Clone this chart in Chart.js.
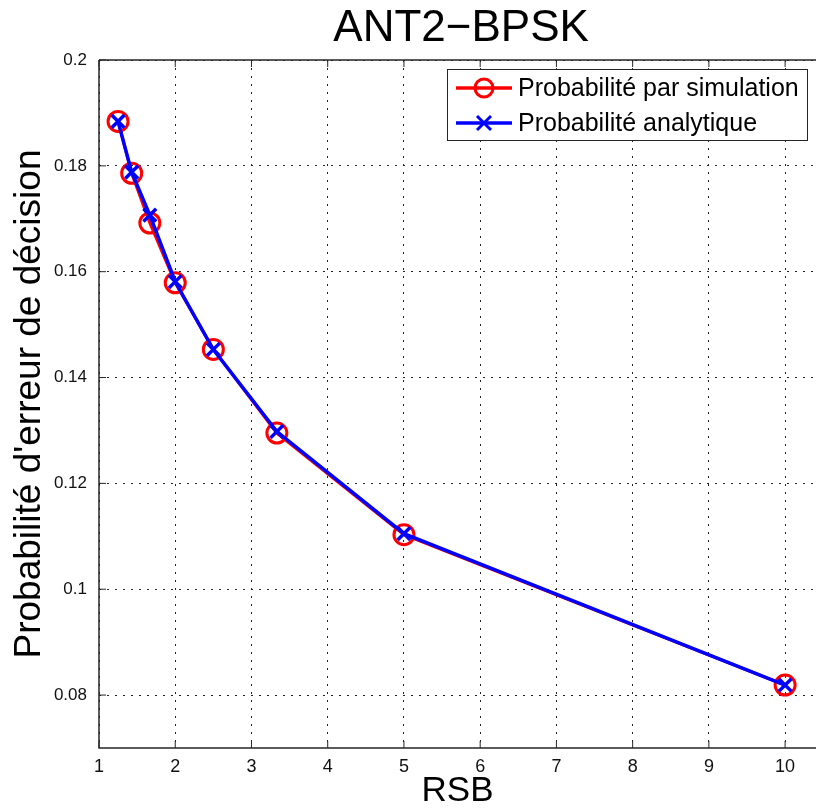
<!DOCTYPE html>
<html lang="fr">
<head>
<meta charset="UTF-8">
<title>ANT2-BPSK</title>
<script src="https://cdn.jsdelivr.net/npm/chart.js"></script>
<style>
  html, body { margin: 0; padding: 0; background: #fff; }
  #wrap { width: 816px; height: 809px; }
</style>
</head>
<body>
<div id="wrap"><canvas id="chart"></canvas></div>
<script>
    // valeurs
    const rsb = [1.25, 1.4286, 1.6667, 2, 2.5, 3.3333, 5, 10];
    const probSimulation = [0.1884, 0.1786, 0.1692, 0.1579, 0.1453, 0.1295, 0.1103, 0.0819];
    const probAnalytique = [0.1884, 0.1788, 0.1707, 0.1581, 0.1453, 0.1298, 0.1105, 0.0819];
    const xTicks = [1, 2, 3, 4, 5, 6, 7, 8, 9, 10];
    const yTicks = [0.08, 0.1, 0.12, 0.14, 0.16, 0.18, 0.2];
    const legendLabels = ['Probabilité par simulation', 'Probabilité analytique'];

    const FONT = "'Liberation Sans Narrow', 'Liberation Sans', Arial, sans-serif";
    const X_END = 10.405; // l'image est coupee a droite, l'axe continue
    const X_FULL = 10.5;  // fin reelle de l'axe (pour centrer le titre)

    // cadre facon matlab, titre et legende dessines a la main
    const matlabFrame = {
        id: 'matlabFrame',
        afterDatasetsDraw(chart) {
            const ctx = chart.ctx;
            const a = chart.chartArea;
            const xs = chart.scales.x, ys = chart.scales.y;
            ctx.save();
            ctx.strokeStyle = '#262626';
            ctx.lineWidth = 1.5;
            ctx.beginPath();
            ctx.moveTo(a.left, a.top);
            ctx.lineTo(a.left, a.bottom);
            ctx.lineTo(chart.width, a.bottom);
            ctx.moveTo(a.left, a.top);
            ctx.lineTo(chart.width, a.top);
            ctx.stroke();
            // petites graduations vers l'interieur
            ctx.lineWidth = 1;
            ctx.beginPath();
            xTicks.forEach(v => {
                const px = xs.getPixelForValue(v);
                ctx.moveTo(px, a.bottom); ctx.lineTo(px, a.bottom - 7);
                ctx.moveTo(px, a.top); ctx.lineTo(px, a.top + 7);
            });
            yTicks.forEach(v => {
                const py = ys.getPixelForValue(v);
                ctx.moveTo(a.left, py); ctx.lineTo(a.left + 7, py);
            });
            ctx.stroke();
            ctx.restore();
        },
        afterDraw(chart) {
            const ctx = chart.ctx;
            const a = chart.chartArea;
            const xs = chart.scales.x;
            ctx.save();
            // titre centre sur l'axe complet
            const cx = (a.left + xs.getPixelForValue(X_FULL)) / 2;
            ctx.fillStyle = '#000';
            ctx.font = '44px ' + FONT;
            ctx.textAlign = 'center';
            ctx.textBaseline = 'middle';
            ctx.fillText('ANT2\u2212BPSK', cx, 29);

            // legende
            const bx = 447, by = 69, bw = 360, bh = 71;
            ctx.fillStyle = '#fff';
            ctx.fillRect(bx, by, bw, bh);
            ctx.strokeStyle = '#262626';
            ctx.lineWidth = 1;
            ctx.strokeRect(bx + 0.5, by + 0.5, bw, bh);
            const rows = [
                { y: by + 19, color: '#ff0000', marker: 'circle' },
                { y: by + 54, color: '#0000ff', marker: 'cross' }
            ];
            ctx.font = '25px ' + FONT;
            ctx.textAlign = 'left';
            rows.forEach((r, i) => {
                ctx.strokeStyle = r.color;
                ctx.lineWidth = 3.5;
                ctx.beginPath();
                ctx.moveTo(456, r.y); ctx.lineTo(512, r.y);
                ctx.stroke();
                ctx.lineWidth = 3;
                ctx.beginPath();
                if (r.marker === 'circle') {
                    ctx.arc(484, r.y, 9, 0, Math.PI * 2);
                } else {
                    ctx.moveTo(477, r.y - 7); ctx.lineTo(491, r.y + 7);
                    ctx.moveTo(477, r.y + 7); ctx.lineTo(491, r.y - 7);
                }
                ctx.stroke();
                ctx.fillStyle = '#000';
                ctx.fillText(legendLabels[i], 518, r.y + 1);
            });
            ctx.restore();
        }
    };

    const ctx = document.getElementById('chart').getContext('2d');
    const chart = new Chart(ctx, {
        type: 'line',
        data: {
            datasets: [{
                label: legendLabels[1],
                data: rsb.map((x, i) => ({ x: x, y: probAnalytique[i] })),
                borderColor: '#0000ff',
                borderWidth: 3.5,
                pointStyle: 'crossRot',
                pointRadius: 9,
                pointBorderWidth: 3.5,
                pointBorderColor: '#0000ff',
                fill: false,
                tension: 0
            }, {
                label: legendLabels[0],
                data: rsb.map((x, i) => ({ x: x, y: probSimulation[i] })),
                borderColor: '#ff0000',
                borderWidth: 3,
                pointStyle: 'circle',
                pointRadius: 10,
                pointBorderWidth: 3,
                pointBorderColor: '#ff0000',
                pointBackgroundColor: 'rgba(0,0,0,0)',
                fill: false,
                tension: 0
            }]
        },
        options: {
            responsive: true,
            maintainAspectRatio: false,
            animation: false,
            layout: { autoPadding: false, padding: { top: 60, left: 0, right: 0, bottom: 0 } },
            plugins: {
                legend: { display: false },
                tooltip: { enabled: false }
            },
            scales: {
                x: {
                    type: 'linear',
                    min: 1,
                    max: X_END,
                    afterBuildTicks: s => { s.ticks = xTicks.map(v => ({ value: v })); },
                    afterFit: s => {
                        s.height = 61;
                        s.paddingLeft = 0;
                        s.paddingRight = 0;
                    },
                    ticks: {
                        color: '#111',
                        padding: 8,
                        maxRotation: 0,
                        font: { family: FONT, size: 18 }
                    },
                    grid: { color: '#222', lineWidth: 1, drawTicks: false },
                    border: { display: false, dash: [2, 6] },
                    title: {
                        display: true,
                        text: 'RSB',
                        color: '#000',
                        padding: 0,
                        font: { family: FONT, size: 35, lineHeight: 1.0 }
                    }
                },
                y: {
                    min: 0.07,
                    max: 0.2,
                    afterBuildTicks: s => { s.ticks = yTicks.map(v => ({ value: v })); },
                    afterFit: s => { s.width = 99; },
                    ticks: {
                        color: '#111',
                        padding: 12,
                        font: { family: FONT, size: 17 },
                        callback: v => String(+v.toFixed(2))
                    },
                    grid: { color: '#222', lineWidth: 1, drawTicks: false },
                    border: { display: false, dash: [2, 6] },
                    title: {
                        display: true,
                        text: "Probabilité d'erreur de décision",
                        color: '#000',
                        padding: { top: 8, bottom: 0 },
                        font: { family: FONT, size: 37, lineHeight: 1.2 }
                    }
                }
            }
        },
        plugins: [matlabFrame]
    });
</script>
</body>
</html>
